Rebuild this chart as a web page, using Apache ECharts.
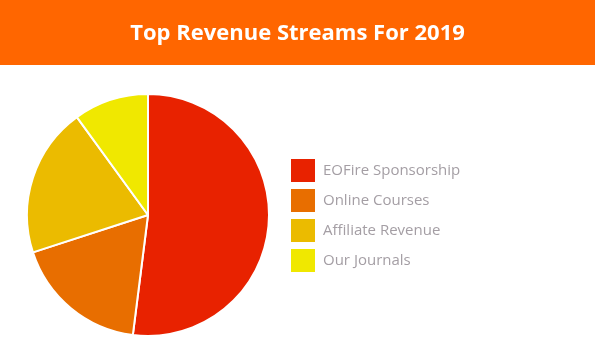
<!DOCTYPE html>
<html>
<head>
<meta charset="utf-8">
<script src="https://cdn.jsdelivr.net/npm/echarts@6/dist/echarts.min.js"></script>
<style>html,body{margin:0;padding:0;background:#fff;}#c{width:595px;height:362px;}</style>
</head>
<body>
<div id="c"></div>
<script>
const categories = ["EOFire Sponsorship", "Online Courses", "Affiliate Revenue", "Our Journals"];
const values = [52, 18, 20, 10];
const colors = ["#E82200", "#E86E00", "#EBBB00", "#F0E800"];

const chart = echarts.init(document.getElementById('c'), null, {renderer: 'canvas'});
chart.setOption({
  animation: false,
  backgroundColor: '#ffffff',
  color: colors,
  graphic: [{
    type: 'rect', left: 0, top: 0, z: -1,
    shape: {width: 595, height: 65},
    style: {fill: '#FF6600'}
  }],
  title: {
    text: 'Top Revenue Streams For 2019',
    left: 'center', top: 18,
    textStyle: {color: '#ffffff', fontSize: 22, fontWeight: 'bold', fontFamily: 'Open Sans'}
  },
  legend: {
    orient: 'vertical',
    left: 284, top: 152,
    itemWidth: 26, itemHeight: 25, itemGap: 3,
    icon: 'rect',
    textStyle: {color: '#A49EA4', fontSize: 15, fontFamily: 'Open Sans', padding: [0, 0, 0, 2], lineHeight: 25},
    data: categories
  },
  series: [{
    type: 'pie',
    center: [148, 215],
    radius: 121,
    startAngle: 90,
    clockwise: true,
    label: {show: false},
    labelLine: {show: false},
    itemStyle: {borderColor: '#ffffff', borderWidth: 2},
    emphasis: {disabled: true},
    data: categories.map((n, i) => ({name: n, value: values[i]}))
  }]
});
</script>
</body>
</html>
